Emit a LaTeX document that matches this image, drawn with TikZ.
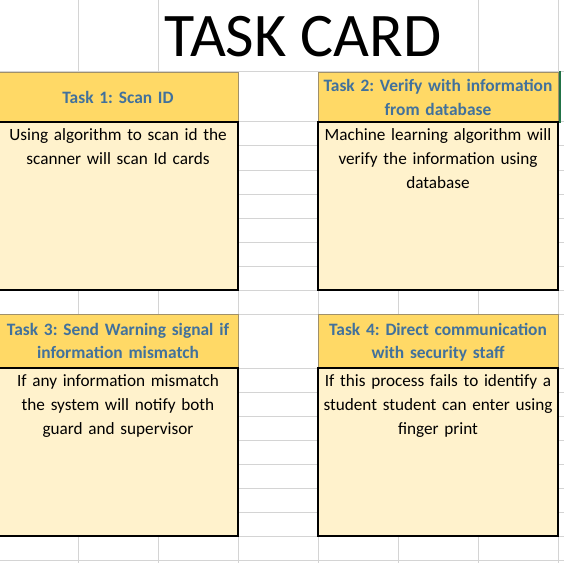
\documentclass[tikz,border=0pt]{standalone}
\usepackage{fontspec}
\setmainfont{Carlito}
\frenchspacing
\definecolor{gridc}{HTML}{D4D4D4}
\definecolor{hdrfill}{HTML}{FFD966}
\definecolor{bodyfill}{HTML}{FFF2CC}
\definecolor{hdrtext}{HTML}{41719C}
\definecolor{hdrline}{HTML}{A0906A}
\definecolor{selgreen}{HTML}{217346}
\begin{document}
\begin{tikzpicture}[x=1bp,y=-1bp,
 gridline/.style={draw=gridc,line width=1bp},
 hdrbox/.style={fill=hdrfill,draw=hdrline,line width=0.8bp},
 bodybox/.style={fill=bodyfill,draw=black,line width=1.3bp},
 hdrtxt/.style={anchor=north,inner sep=0pt,text width=236bp,align=center,font=\fontsize{17.4bp}{23.5bp}\selectfont\bfseries,text=hdrtext},
 bodytxt/.style={anchor=north,inner sep=0pt,text width=236bp,align=center,font=\fontsize{17.2bp}{24bp}\selectfont},
]
\useasboundingbox (0,0) rectangle (564,563);
\fill[white] (0,0) rectangle (564,563);
% grid
\foreach \x in {78,158,478,558} \draw[gridline] (\x,0) -- (\x,563);
\foreach \x in {238,318,398} \draw[gridline] (\x,72) -- (\x,563);
\foreach \y in {72,122,146,170,194,218,242,266,290,314,368,392,416,440,464,488,512,536,560}
  \draw[gridline] (0,\y) -- (564,\y);
% title
\node[anchor=base,inner sep=0pt,font=\fontsize{62bp}{62bp}\selectfont] (title) at (303,57) {TASK CARD};
% card 1
\draw[hdrbox] (-2,72) rectangle (238,122);
\draw[bodybox] (-2,122) rectangle (238,290);
\node[hdrtxt] (h1) at (118,72) {\rule{0pt}{31bp}Task 1: Scan ID};
\node[bodytxt] (b1) at (118,122) {\rule{0pt}{18.7bp}Using algorithm to scan id the\\scanner will scan Id cards};
% card 2
\draw[hdrbox] (318,72) rectangle (558,122);
\draw[bodybox] (318,122) rectangle (558,290);
\node[hdrtxt] (h2) at (438,72) {\rule{0pt}{19.7bp}Task 2: Verify with information\\from database};
\node[bodytxt] (b2) at (438,122) {\rule{0pt}{18.7bp}Machine learning algorithm will\\verify the information using\\database};
\draw[selgreen,line width=2.5bp] (560,71) -- (560,123);
% card 3
\draw[hdrbox] (-2,314) rectangle (238,368);
\draw[bodybox] (-2,368) rectangle (238,536);
\node[hdrtxt] (h3) at (118,314) {\rule{0pt}{21bp}Task 3: Send Warning signal if\\information mismatch};
\node[bodytxt] (b3) at (118,368) {\rule{0pt}{18.7bp}If any information mismatch\\the system will notify both\\guard and supervisor};
% card 4
\draw[hdrbox] (318,314) rectangle (558,368);
\draw[bodybox] (318,368) rectangle (558,536);
\node[hdrtxt] (h4) at (438,314) {\rule{0pt}{21bp}Task 4: Direct communication\\with security staff};
\node[bodytxt] (b4) at (438,368) {\rule{0pt}{18.7bp}If this process fails to identify a\\student student can enter using\\finger print};
\end{tikzpicture}
\end{document}
